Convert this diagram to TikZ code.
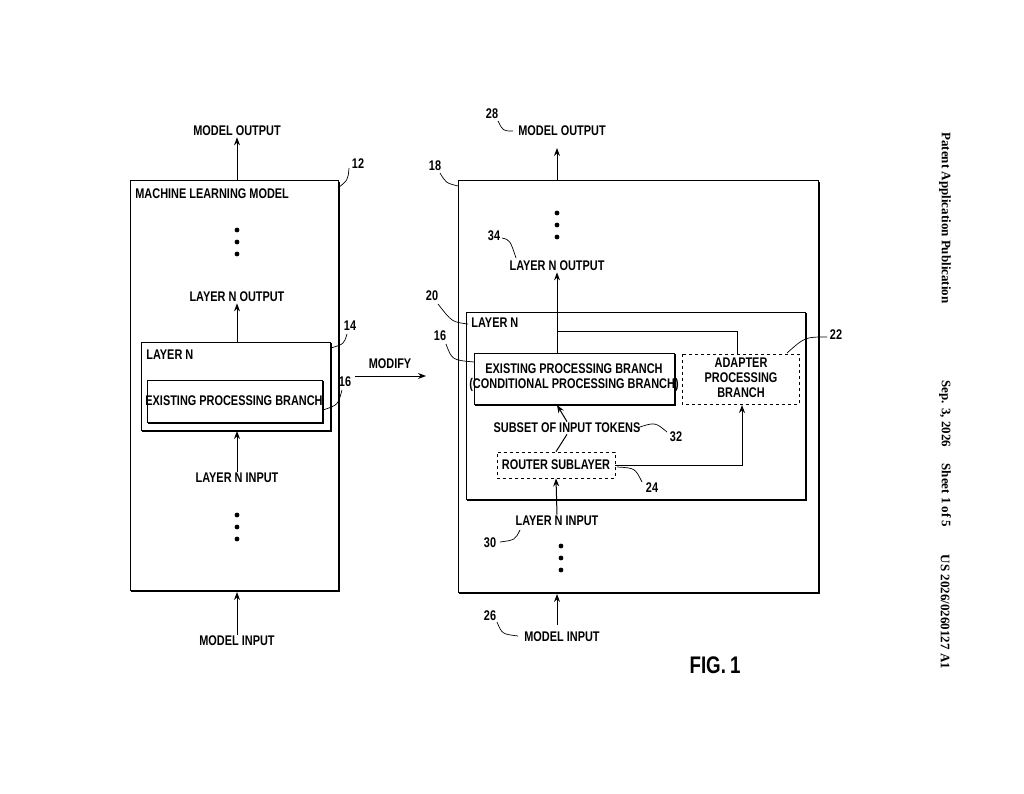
\documentclass[tikz,border=0pt]{standalone}
\usepackage{fontspec}
\setmainfont{Liberation Sans}[FakeStretch=0.78]
\newfontfamily\hdrfont{Liberation Serif}
\usetikzlibrary{positioning,arrows.meta}
\begin{document}
\begin{tikzpicture}[x=1pt,y=-1pt,thick,
  lbl/.style={font=\bfseries\fontsize{14}{15}\selectfont,inner sep=1pt},
  blk/.style={draw,line width=1pt},
  dblk/.style={draw,dashed,line width=0.8pt},
  arr/.style={-{Stealth[length=8pt,width=6pt]},line width=1pt},
  ref/.style={line width=0.7pt},
  dots/.style={font=\Huge\bfseries}]
\useasboundingbox (0,0) rectangle (1024,794);
% left model
\draw[blk] (130,181) rectangle (338,590);
\draw[line width=2pt] (339,182) -- (339,591) -- (131,591);
\node[lbl,anchor=west] (mlm) at (134,194) {MACHINE LEARNING MODEL};
\node[lbl] (lout) at (237,131) {MODEL OUTPUT};
\draw[arr] (237,181) -- (lout.south);
\foreach \y in {230,242,254} \fill (237,\y) circle[radius=2.4];
\node[lbl] (lnout) at (237,297) {LAYER N OUTPUT};
\draw[blk] (141,342) rectangle (330,430);
\draw[line width=2pt] (331,343) -- (331,431) -- (142,431);
\node[lbl,anchor=west] at (145,355) {LAYER N};
\draw[blk] (147,380) rectangle (322,422);
\draw[line width=2pt] (323,381) -- (323,423) -- (148,423);
\node[lbl] (lexist) at (234,401) {EXISTING PROCESSING BRANCH};
\draw[arr] (237,342) -- (lnout.south);
\node[lbl] (lnin) at (237,478) {LAYER N INPUT};
\draw[arr] (lnin.north) -- (237,431);
\foreach \y in {515,527,539} \fill (237,\y) circle[radius=2.4];
\node[lbl] (lin) at (237,641) {MODEL INPUT};
\draw[arr] (lin.north) -- (237,592);
\node[lbl] (n12) at (358,164) {12};
\draw[ref] (349,168) .. controls (348,180) .. (338,188);
\node[lbl] (n14) at (350,326) {14};
\draw[ref] (347,334) .. controls (344,344) .. (331,348);
\node[lbl] (n16a) at (345,382) {16};
\draw[ref] (342,390) .. controls (338,405) .. (323,410);
% modify
\node[lbl] (modify) at (390,364) {MODIFY};
\draw[arr] (355,376) -- (426,376);
% right model
\draw[blk] (458,181) rectangle (818,592);
\draw[line width=2pt] (819,182) -- (819,593) -- (459,593);
\node[lbl] (n18) at (435,166) {18};
\draw[ref] (440,173) .. controls (446,183) .. (458,186);
\node[lbl] (rout) at (562,131) {MODEL OUTPUT};
\node[lbl] (n28) at (492,114) {28};
\draw[ref] (498,121) .. controls (503,131) .. (513,131);
\draw[arr] (557,181) -- (557,148);
\foreach \y in {213,225,237} \fill (557,\y) circle[radius=2.4];
\node[lbl] (n34) at (494,236) {34};
\draw[ref] (502,238) .. controls (510,240) .. (516,258);
\node[lbl] (rnout) at (557,266) {LAYER N OUTPUT};
\draw[blk] (466,312) rectangle (805,499);
\draw[line width=2pt] (806,313) -- (806,500) -- (467,500);
\node[lbl] (n20) at (432,296) {20};
\draw[ref] (438,304) .. controls (452,322) .. (468,324);
\node[lbl,anchor=west] at (470,323) {LAYER N};
\draw[blk] (474,353) rectangle (674,404);
\draw[line width=2pt] (675,354) -- (675,405) -- (475,405);
\node[lbl,align=center] (rexist) at (574,378) {EXISTING PROCESSING BRANCH\\(CONDITIONAL PROCESSING BRANCH)};
\node[lbl] (n16b) at (440,336) {16};
\draw[ref] (446,344) .. controls (452,360) .. (474,362);
\draw[dblk] (682,354) rectangle (799,404);
\node[lbl,align=center] (adapter) at (741,378) {ADAPTER\\PROCESSING\\BRANCH};
\node[lbl] (n22) at (836,335) {22};
\draw[ref] (827,337) .. controls (805,337) .. (787,353);
\draw[arr] (557,353) -- (rnout.south);
\draw[line width=1pt] (737,354) -- (737,331) -- (557,331);
\node[dblk,lbl,minimum width=118pt,minimum height=26pt,inner sep=0pt] (router) at (556,465) {ROUTER SUBLAYER};
\node[lbl] (subset) at (567,428) {SUBSET OF INPUT TOKENS};
\draw[line width=1pt] (router.north) -- (subset.south);
\draw[arr] (subset.north) -- (557,405);
\node[lbl] (n32) at (676,437) {32};
\draw[ref] (637,428) .. controls (655,422) .. (667,432);
\node[lbl] (n24) at (652,488) {24};
\draw[ref] (617,467) .. controls (635,468) .. (642,482);
\draw[arr] (router.east) -- (742,465) -- (742,405);
\node[lbl] (rnin) at (557,521) {LAYER N INPUT};
\draw[arr] (rnin.north) -- (router.south);
\foreach \y in {546,558,570} \fill (561,\y) circle[radius=2.4];
\node[lbl] (n30) at (490,543) {30};
\draw[ref] (500,542) .. controls (515,540) .. (520,530);
\node[lbl] (rin) at (562,637) {MODEL INPUT};
\node[lbl] (n26) at (490,616) {26};
\draw[ref] (497,622) .. controls (502,634) .. (518,636);
\draw[arr] (557,625) -- (557,594);
\node[font=\bfseries\fontsize{24}{26}\selectfont] (fig) at (715,665) {FIG.\,1};
% header
\node[font=\hdrfont\bfseries\fontsize{13}{14}\selectfont,rotate=-90] (h1) at (945,218) {Patent Application Publication};
\node[font=\hdrfont\bfseries\fontsize{13}{14}\selectfont,rotate=-90] (h2) at (945,454) {Sep. 3, 2026\quad\ Sheet 1 of 5};
\node[font=\hdrfont\bfseries\fontsize{13}{14}\selectfont,rotate=-90] (h3) at (945,612) {US 2026/0260127 A1};
\end{tikzpicture}
\end{document}
